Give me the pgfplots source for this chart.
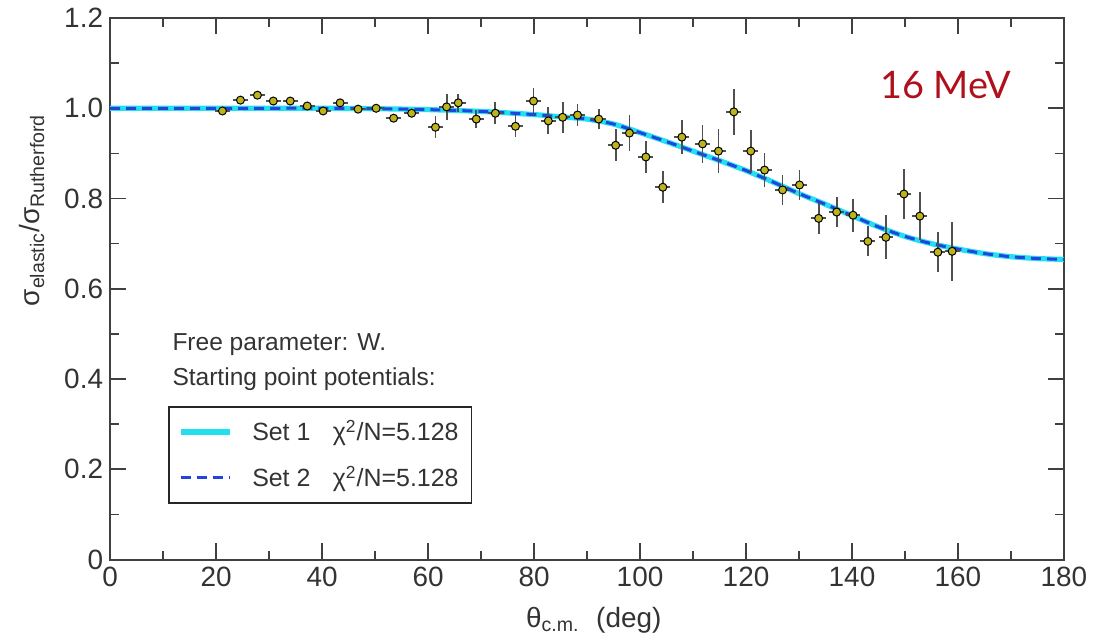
\documentclass[border=0pt]{standalone}
\usepackage{fontspec}
\setmainfont{Liberation Sans}
\newfontfamily\latofont{Lato}
\usepackage{pgfplots}
\usepackage{pgfplotstable}
\pgfplotsset{compat=1.18}
\definecolor{set1cyan}{HTML}{22E0F0}
\definecolor{set2blue}{HTML}{2244DD}
\definecolor{ptfill}{HTML}{BDB41C}
\definecolor{errgray}{HTML}{505050}
\definecolor{mevred}{HTML}{B0101C}

% measured ratio with errors
\pgfplotstableread{
x y ex ey
21.2 0.994 1.4 0.006
24.6 1.018 1.4 0.006
27.8 1.029 1.4 0.006
30.8 1.016 1.4 0.006
34.0 1.016 1.4 0.006
37.2 1.005 1.4 0.006
40.2 0.994 1.4 0.006
43.4 1.012 1.4 0.006
46.8 0.998 1.4 0.006
50.2 1.000 1.4 0.006
53.5 0.978 1.4 0.006
56.9 0.989 1.4 0.006
61.4 0.958 1.4 0.024
63.5 1.003 1.4 0.029
65.7 1.012 1.4 0.020
69.1 0.976 1.4 0.020
72.7 0.989 1.4 0.024
76.5 0.960 1.4 0.024
79.9 1.016 1.4 0.030
82.7 0.972 1.4 0.030
85.4 0.980 1.4 0.034
88.2 0.985 1.4 0.024
92.2 0.976 1.4 0.023
95.4 0.918 1.4 0.035
98.0 0.945 1.4 0.039
101.1 0.892 1.4 0.035
104.3 0.825 1.4 0.035
107.9 0.936 1.4 0.037
111.8 0.921 1.4 0.042
114.8 0.905 1.4 0.048
117.7 0.992 1.4 0.051
120.9 0.905 1.4 0.047
123.5 0.863 1.4 0.038
126.9 0.819 1.4 0.033
130.1 0.830 1.4 0.034
133.7 0.756 1.4 0.035
137.1 0.770 1.4 0.033
140.2 0.763 1.4 0.037
143.0 0.705 1.4 0.033
146.4 0.714 1.4 0.049
149.8 0.810 1.4 0.055
152.8 0.761 1.4 0.053
156.2 0.681 1.4 0.044
158.9 0.683 1.4 0.066
}\expdata

% fitted optical-model curve (both sets coincide)
\pgfplotstableread{
x y
0 1.000
10 1.000
20 1.000
30 1.000
40 1.000
50 0.999
60 0.997
70 0.993
80 0.986
85 0.981
90 0.976
95 0.965
100 0.946
105 0.926
110 0.905
115 0.884
120 0.862
125 0.837
130 0.811
135 0.787
140 0.762
145 0.737
150 0.716
155 0.700
160 0.688
165 0.678
170 0.671
175 0.667
180 0.665
}\fitcurve

\begin{document}
\begin{tikzpicture}
\useasboundingbox (-55bp,-38.5bp) rectangle (491.5bp,279.5bp);
\begin{axis}[
    scale only axis,
    width=476.5bp,
    height=270.5bp,
    xmin=0, xmax=180,
    ymin=0, ymax=1.2,
    xtick={0,20,40,60,80,100,120,140,160,180},
    xticklabels={0,20,40,60,80,100,120,140,160,180},
    ytick={0,0.2,0.4,0.6,0.8,1.0,1.2},
    yticklabels={0,0.2,0.4,0.6,0.8,1.0,1.2},
    minor x tick num=1,
    minor y tick num=1,
    tick align=inside,
    major tick length=8bp,
    minor tick length=4.5bp,
    tick style={black!75, line width=0.8bp},
    axis line style={black!75, line width=1bp},
    tick label style={font=\fontsize{14}{16}\selectfont, text=black!80},
    xlabel={θ\textsubscript{c.m.}\hspace{0.6em}(deg)},
    ylabel={σ\textsubscript{elastic}/σ\textsubscript{Rutherford}},
    label style={font=\fontsize{14}{16}\selectfont, text=black!80},
    xlabel style={at={(axis description cs:0.507,-0.075)}, anchor=north},
    ylabel style={at={(axis description cs:-0.082,0.645)}, anchor=center},
    legend style={
        at={(0.0609,0.1033)},
        anchor=south west,
        draw=black!85,
        line width=0.8bp,
        font=\fontsize{12.5}{15}\selectfont,
        text=black!80,
        inner xsep=4.5bp,
        inner ysep=4.5bp,
        row sep=7bp,
        cells={anchor=west},
        /tikz/every odd column/.append style={column sep=8bp},
    },
    legend image code/.code={\draw[#1] (0bp,0bp) -- (24.5bp,0bp);},
    clip=false,
]
\addplot[set1cyan, line width=2.6bp, smooth] table[x=x, y=y] {\fitcurve};
\addlegendentry{Set 1\hspace{0.9em}χ\textsuperscript{2}/N=5.128}
\addplot[set2blue, line width=1.5bp, dash pattern=on 5bp off 3bp, smooth] table[x=x, y=y] {\fitcurve};
\addlegendentry{Set 2\hspace{0.9em}χ\textsuperscript{2}/N=5.128}
\addplot[forget plot, only marks, mark=*, mark size=2bp,
         mark options={fill=ptfill, draw=black, line width=0.5bp},
         error bars/.cd,
         x dir=both, x explicit, y dir=both, y explicit,
         error mark=none,
         error bar style={errgray, line width=0.9bp}]
    table[x=x, y=y, x error=ex, y error=ey] {\expdata};
\node[anchor=base west, font=\fontsize{12.3}{14}\selectfont, text=black!80, inner sep=0pt]
    at (axis cs:11.7,0.4636) {Free parameter: W.};
\node[anchor=base west, font=\fontsize{12.3}{14}\selectfont, text=black!80, inner sep=0pt]
    at (axis cs:11.7,0.386) {Starting point potentials:};
\node[font=\latofont\fontsize{19}{22}\selectfont, text=mevred]
    at (axis cs:157.7,1.051) {16 MeV};
\end{axis}
\end{tikzpicture}
\end{document}
